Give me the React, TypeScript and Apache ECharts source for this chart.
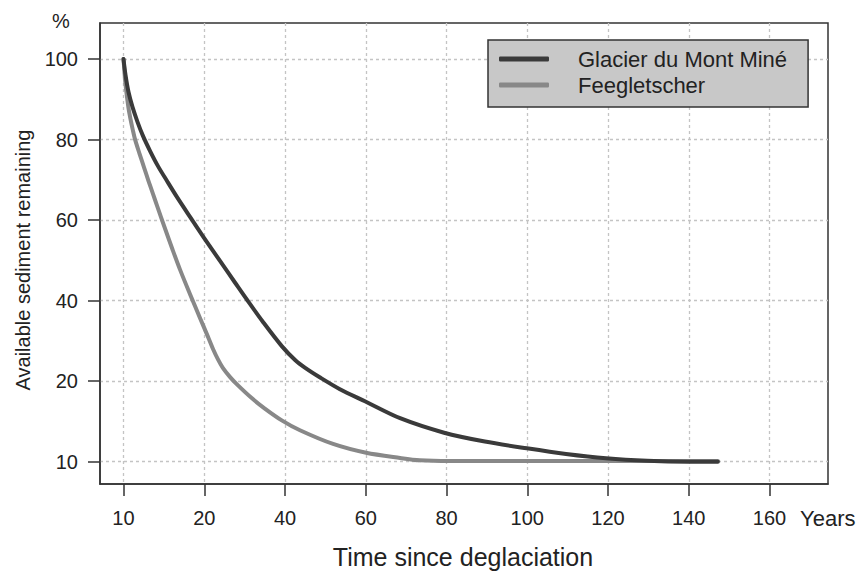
import React, { useEffect, useRef } from "react";
import * as echarts from "echarts";

// Axis tick values (the original axes are piecewise: 10→20 occupies one step, then steps of 20)
const xTickValues = [10, 20, 40, 60, 80, 100, 120, 140, 160];
const yTickValues = [10, 20, 40, 60, 80, 100];

// Glacier du Mont Miné (years since deglaciation, % sediment remaining)
const mineX = [10, 10.25, 10.62, 11.11, 11.73, 12.41, 13.28, 14.27, 15.39, 16.63, 18.24, 19.97, 23.9, 27.6, 30.8, 34.55, 39.2, 42.5, 45.0, 48.7, 53.6, 59.8, 68.5, 79.4, 89.5, 99.9, 109.6, 119.5, 129.7, 139.8, 147.2];
const mineY = [100, 96.0, 91.8, 88.1, 84.4, 80.9, 77.2, 73.4, 69.7, 65.7, 60.8, 55.6, 49.85, 44.5, 39.9, 34.7, 28.7, 25.25, 23.3, 20.9, 19.0, 17.5, 15.4, 13.6, 12.5, 11.66, 10.96, 10.42, 10.11, 10.0, 10.0];

// Feegletscher
const feeX = [10, 10.1, 10.22, 10.4, 10.62, 10.89, 11.15, 11.42, 11.98, 12.54, 13.1, 13.65, 14.15, 15.14, 16.07, 17.0, 18.24, 19.47, 20.93, 22.17, 23.4, 24.6, 26.4, 28.1, 31.75, 35.0, 39.3, 43.7, 51.9, 60.1, 68.5, 73.4, 80.9, 147.2];
const feeY = [100, 97.3, 94.3, 91.1, 87.8, 84.85, 82.4, 80.1, 76.5, 73.1, 69.7, 66.5, 63.6, 57.9, 52.7, 47.7, 41.6, 35.7, 31.0, 28.0, 25.4, 23.3, 21.0, 19.6, 17.9, 16.6, 15.1, 13.9, 12.2, 11.1, 10.46, 10.17, 10.08, 10.08];

const seriesNames = ["Glacier du Mont Miné", "Feegletscher"];

// piecewise scale: 10..20 -> 0..1, then every 20 -> +1
const toPos = (v: number) => (v <= 20 ? (v - 10) / 10 : 1 + (v - 20) / 20);
const fromPos = (p: number) => (p <= 1 ? 10 + 10 * p : 20 + 20 * (p - 1));

const FONT = "'Liberation Sans', Arial, Helvetica, sans-serif";
const TXT = "#222222";

export default function App() {
  const ref = useRef<HTMLDivElement>(null);
  useEffect(() => {
    if (!ref.current) return;
    const chart = echarts.init(ref.current, undefined, { renderer: "svg" });
    const xTicks = xTickValues.map(toPos);
    const yTicks = yTickValues.map(toPos);
    const fmt = (v: number) => String(Math.round(fromPos(v)));
    const mineData = mineX.map((x, i) => [toPos(x), toPos(mineY[i])]);
    const feeData = feeX.map((x, i) => [toPos(x), toPos(feeY[i])]);

    chart.setOption({
      animation: false,
      backgroundColor: "#ffffff",
      textStyle: { fontFamily: FONT },
      grid: {
        left: 100,
        right: 33,
        top: 23,
        bottom: 88,
        show: true,
        borderColor: "#333333",
        borderWidth: 1.5,
        backgroundColor: "transparent",
      },
      xAxis: {
        type: "value",
        min: -0.291,
        max: 8.724,
        axisLine: { show: true, onZero: false, lineStyle: { color: "#333333", width: 1.5 } },
        axisTick: {
          show: true,
          inside: false,
          length: 12,
          customValues: xTicks,
          lineStyle: { color: "#333333", width: 1.5 },
        },
        axisLabel: {
          customValues: xTicks,
          formatter: fmt,
          fontSize: 20,
          color: TXT,
          margin: 24,
          fontFamily: FONT,
        },
        splitLine: {
          show: true,
          lineStyle: { color: "#c4c4c4", type: [3, 3], width: 1.3 },
        },
      },
      yAxis: {
        type: "value",
        min: -0.277,
        max: 5.447,
        axisLine: { show: true, onZero: false, lineStyle: { color: "#333333", width: 1.5 } },
        axisTick: {
          show: true,
          inside: false,
          length: 12,
          customValues: yTicks,
          lineStyle: { color: "#333333", width: 1.5 },
        },
        axisLabel: {
          customValues: yTicks,
          formatter: fmt,
          fontSize: 20,
          color: TXT,
          margin: 22,
          fontFamily: FONT,
        },
        splitLine: {
          show: true,
          lineStyle: { color: "#c4c4c4", type: [3, 3], width: 1.3 },
        },
      },
      legend: {
        data: seriesNames,
        orient: "vertical",
        left: 488,
        top: 40,
        icon: "roundRect",
        itemWidth: 50,
        itemHeight: 5,
        itemGap: 2,
        padding: [7, 21, 10, 11],
        backgroundColor: "#c8c8c8",
        borderColor: "#333333",
        borderWidth: 1.5,
        borderRadius: 0,
        textStyle: {
          fontSize: 22,
          color: TXT,
          fontFamily: FONT,
          padding: [0, 0, 0, 24],
          lineHeight: 24,
        },
      },
      series: [
        {
          name: seriesNames[0],
          type: "line",
          data: mineData,
          showSymbol: false,
          symbol: "none",
          smooth: 0.3,
          z: 3,
          lineStyle: { color: "#3a3a3a", width: 4, cap: "round", join: "round" },
          itemStyle: { color: "#3a3a3a" },
        },
        {
          name: seriesNames[1],
          type: "line",
          data: feeData,
          showSymbol: false,
          symbol: "none",
          smooth: 0.3,
          z: 2,
          lineStyle: { color: "#888888", width: 4, cap: "round", join: "round" },
          itemStyle: { color: "#888888" },
        },
      ],
      graphic: [
        {
          type: "text",
          x: 61,
          y: 21,
          style: { text: "%", fontSize: 20, fill: TXT, fontFamily: FONT, textAlign: "center", textVerticalAlign: "middle" },
        },
        {
          type: "text",
          x: 800,
          y: 518,
          style: { text: "Years", fontSize: 22, fill: TXT, fontFamily: FONT, textAlign: "left", textVerticalAlign: "middle" },
        },
        {
          type: "text",
          x: 23,
          y: 260,
          rotation: Math.PI / 2,
          style: {
            text: "Available sediment remaining",
            fontSize: 20,
            fill: TXT,
            fontFamily: FONT,
            textAlign: "center",
            textVerticalAlign: "middle",
          },
        },
        {
          type: "text",
          x: 463,
          y: 557,
          style: {
            text: "Time since deglaciation",
            fontSize: 25,
            fill: TXT,
            fontFamily: FONT,
            textAlign: "center",
            textVerticalAlign: "middle",
          },
        },
      ],
    });
    return () => chart.dispose();
  }, []);
  return <div ref={ref} style={{ width: 861, height: 572, position: "absolute", left: 0, top: 0 }} />;
}
